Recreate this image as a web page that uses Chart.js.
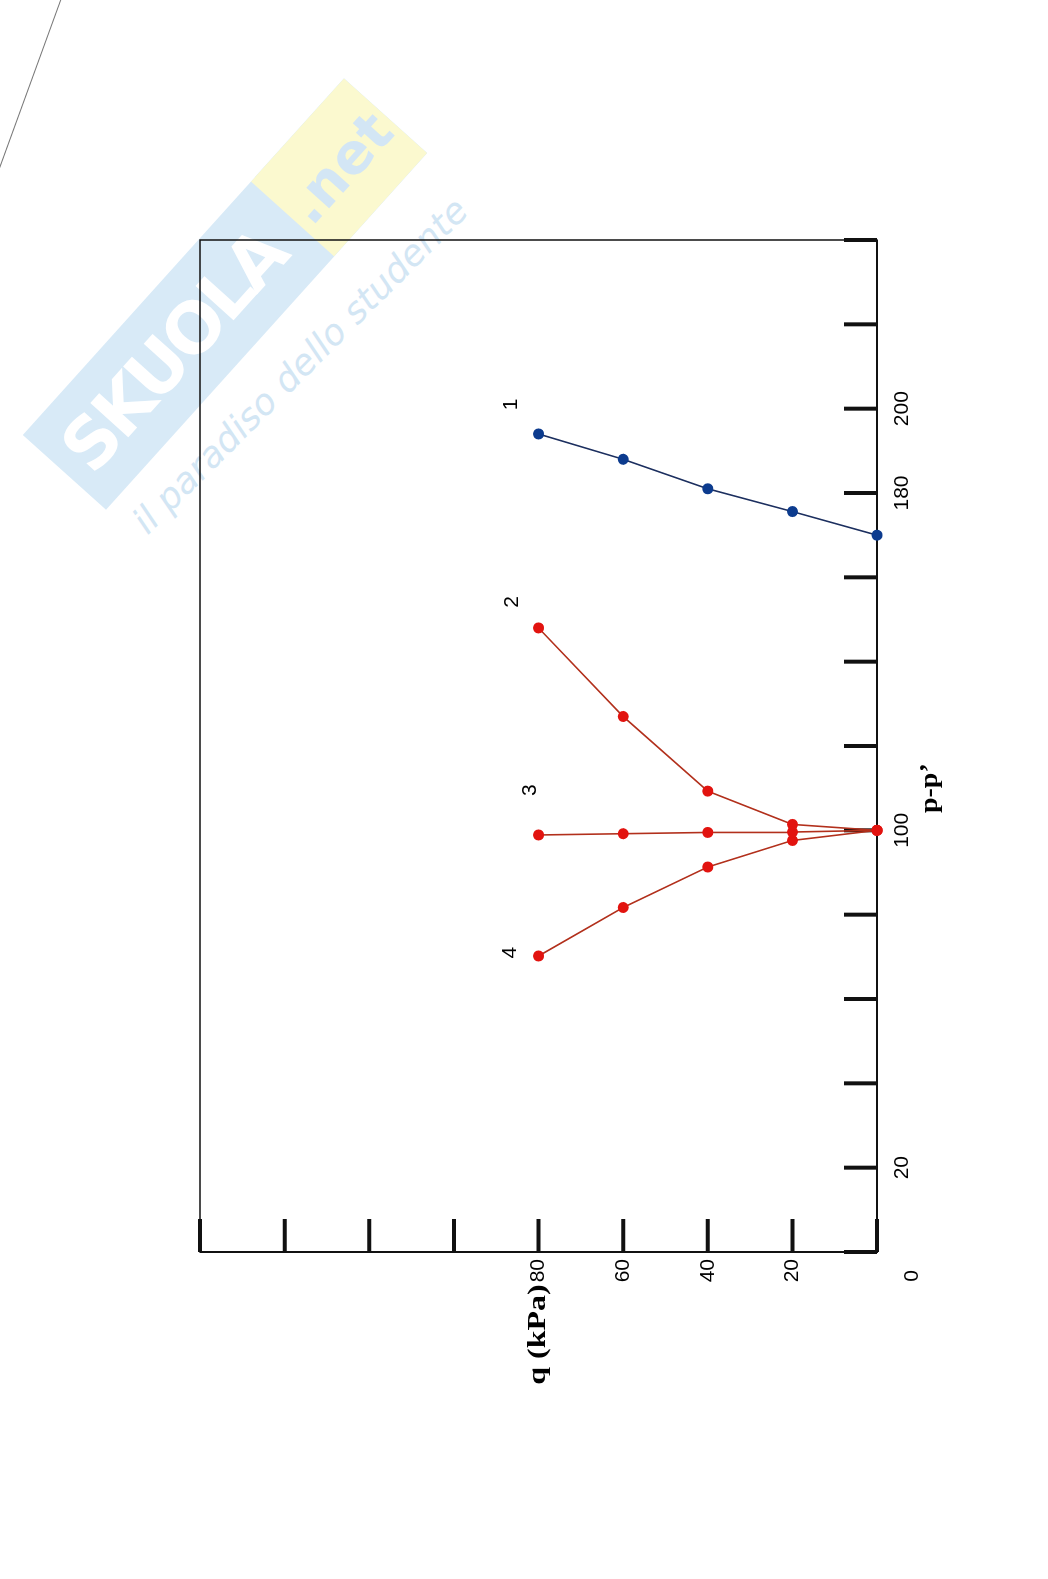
<!doctype html>
<html lang="it">
  <head>
    <meta charset="utf-8">
    <title>q - p-p'</title>
    <style>
      * {
        margin: 0;
        padding: 0;
      }
      body {
        width: 1048px;
        height: 1579px;
        overflow: hidden;
        background: #fff;
        position: relative;
        font-family: "Liberation Sans", sans-serif;
      }
      .wm {
        position: absolute;
        left: 0;
        top: 0;
      }
      .band {
        position: absolute;
        left: -15px;
        top: 238px;
        width: 480px;
        height: 112px;
        background: #d8eaf7;
        transform: rotate(-48deg);
        transform-origin: center;
        display: flex;
        align-items: center;
        overflow: hidden;
      }
      .band .sk {
        color: #fff;
        font: bold 70px "DejaVu Sans", sans-serif;
        letter-spacing: -4px;
        padding-left: 16px;
        width: 325px;
        white-space: nowrap;
        overflow: hidden;
      }
      .band .net {
        height: 100%;
        flex: 1;
        background: #fbf9cf;
        color: #d3e6f5;
        font: bold 56px "DejaVu Sans", sans-serif;
        display: flex;
        align-items: center;
        justify-content: center;
      }
      .sub {
        position: absolute;
        left: 40px;
        top: 345px;
        width: 520px;
        text-align: center;
        white-space: nowrap;
        color: #d3e6f4;
        font: italic 36px "DejaVu Sans", sans-serif;
        transform: rotate(-45deg);
        transform-origin: center;
      }
      .edge {
        position: absolute;
        left: 62px;
        top: -5px;
        width: 1px;
        height: 185px;
        background: #777;
        transform: rotate(20deg);
        transform-origin: top left;
      }
      #wrap {
        position: absolute;
        left: 180px;
        top: 1402px;
        width: 1182px;
        height: 777px;
        transform-origin: 0 0;
        transform: rotate(-90deg);
      }
    </style>
  </head>
  <body>
    <div class="wm">
      <div class="band"><span class="sk">SKUOLA</span><span class="net">.net</span></div>
      <div class="sub">il paradiso dello studente</div>
    </div>
    <div class="edge"></div>
    <div id="wrap">
      <canvas id="myChart" width="1182" height="777"></canvas>
    </div>
    <script src="https://cdn.jsdelivr.net/npm/chart.js"></script>
    <script>
    // values: q (kPa) at each step, p-p' for each path
    const qValues = [0, 20, 40, 60, 80];
    const path1P = [170, 175.6, 181, 188, 194];
    const path2P = [100, 101.4, 109.3, 127, 148];
    const path3P = [100, 99.6, 99.5, 99.2, 98.9];
    const path4P = [100, 97.6, 91.3, 81.7, 70.2];

    // path numbers written next to each curve
    const pathNames = ['1', '2', '3', '4'];
    const nameP = [201, 154.2, 109.5, 71];
    const nameQ = [86.4, 86.2, 81.9, 86.8];

    // axes
    const pMin = 0, pMax = 240, pStep = 20;
    const qMin = 0, qMax = 160, qStep = 20;
    const pLabelled = [20, 100, 180, 200];
    const qLabelled = [20, 40, 60, 80];

    const BLUE_PT = '#0c3b8e', BLUE_LN = '#1c2f5f';
    const RED_PT = '#e2130f', RED_LN = '#b2301c';
    const tickFont = { family: '"Liberation Sans", Arial, sans-serif', size: 21 };

    function pts(pArr) {
      return qValues.map((q, i) => ({ x: pArr[i], y: q }));
    }

    function path(pArr, pt, ln) {
      return {
        data: pts(pArr),
        showLine: true,
        clip: false,
        borderColor: ln,
        borderWidth: 1.6,
        backgroundColor: pt,
        pointBackgroundColor: pt,
        pointBorderColor: pt,
        pointRadius: 5.5,
        pointBorderWidth: 0
      };
    }

    // draw text stretched along its baseline, like the scan
    function wideText(ctx, txt, x, y, sx) {
      ctx.save();
      ctx.translate(x, y);
      ctx.scale(sx, 1);
      ctx.fillText(txt, 0, 0);
      ctx.restore();
    }

    // box, heavy inward ticks, titles and path numbers
    const framePlugin = {
      id: 'frame',
      beforeDatasetsDraw(chart) {
        const { ctx, chartArea: a, scales: { x, y } } = chart;
        ctx.save();
        ctx.strokeStyle = '#111';
        ctx.lineWidth = 1.5;
        ctx.strokeRect(a.left, a.top, a.right - a.left, a.bottom - a.top);
        ctx.lineWidth = 2;
        ctx.beginPath();
        ctx.moveTo(a.left, a.top);
        ctx.lineTo(a.left, a.bottom);
        ctx.lineTo(a.right, a.bottom);
        ctx.stroke();
        ctx.lineWidth = 4;
        ctx.lineCap = 'butt';
        x.ticks.forEach(t => {
          const px = x.getPixelForValue(t.value);
          ctx.beginPath();
          ctx.moveTo(px, a.bottom);
          ctx.lineTo(px, a.bottom - 33);
          ctx.stroke();
        });
        y.ticks.forEach(t => {
          const py = y.getPixelForValue(t.value);
          ctx.beginPath();
          ctx.moveTo(a.left, py);
          ctx.lineTo(a.left + 33, py);
          ctx.stroke();
        });
        ctx.restore();
      },
      afterDraw(chart) {
        const { ctx, chartArea: a, scales: { x, y } } = chart;
        ctx.save();
        ctx.fillStyle = '#000';
        ctx.font = '21px "Liberation Sans", Arial, sans-serif';
        ctx.textAlign = 'center';
        ctx.textBaseline = 'middle';
        // origin label sits off the corner
        ctx.fillText('0', x.getPixelForValue(0) - 24, y.getPixelForValue(0) + 35);
        pathNames.forEach((n, i) => {
          ctx.fillText(n, x.getPixelForValue(nameP[i]), y.getPixelForValue(nameQ[i]));
        });
        const w80 = ctx.measureText('80').width;
        ctx.font = 'bold 25px "Liberation Serif", "Times New Roman", serif';
        ctx.textAlign = 'right';
        wideText(ctx, 'q (kPa)', a.left - 7 - w80 - 2, y.getPixelForValue(80), 1.28);
        ctx.textAlign = 'center';
        wideText(ctx, 'p-p\u2019', x.getPixelForValue(110), a.bottom + 54, 1.12);
        ctx.restore();
      }
    };

    const data = {
      datasets: [
        path(path1P, BLUE_PT, BLUE_LN),
        path(path2P, RED_PT, RED_LN),
        path(path3P, RED_PT, RED_LN),
        path(path4P, RED_PT, RED_LN)
      ]
    };

    const config = {
      type: 'scatter',
      data,
      options: {
        responsive: false,
        animation: false,
        layout: { padding: { left: 0, right: 20, top: 20, bottom: 0 } },
        plugins: {
          legend: { display: false },
          tooltip: { enabled: false }
        },
        scales: {
          x: {
            type: 'linear',
            position: 'bottom',
            min: pMin,
            max: pMax,
            grid: { display: false, drawTicks: false },
            border: { display: false },
            ticks: {
              stepSize: pStep,
              padding: 13,
              color: '#000',
              font: tickFont,
              maxRotation: 0,
              autoSkip: false,
              callback: v => pLabelled.includes(v) ? String(v) : ''
            },
            afterFit: s => { s.height = 80; }
          },
          y: {
            type: 'linear',
            position: 'left',
            min: qMin,
            max: qMax,
            grid: { display: false, drawTicks: false },
            border: { display: false },
            ticks: {
              stepSize: qStep,
              padding: 7,
              color: '#000',
              font: tickFont,
              autoSkip: false,
              callback: v => qLabelled.includes(v) ? String(v) : ''
            },
            afterFit: s => { s.width = 150; }
          }
        }
      },
      plugins: [framePlugin]
    };

    const myChart = new Chart(document.getElementById('myChart'), config);
    </script>
  </body>
</html>
